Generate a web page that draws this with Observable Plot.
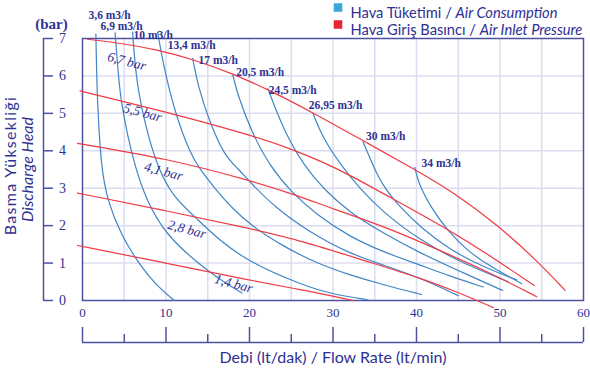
<!DOCTYPE html>
<html><head><meta charset="utf-8">
<script src="https://cdn.jsdelivr.net/npm/d3@7"></script>
<script src="https://cdn.jsdelivr.net/npm/@observablehq/plot@0.6"></script>
<style>body{margin:0;background:#fff;}</style>
</head><body><div id="chart"></div>
<script>
// ---- axis ticks ----
const xTicks = [0, 10, 20, 30, 40, 50, 60];
const xMinorTicks = [5, 15, 25, 35, 45, 55];
const xGrid = [5, 10, 15, 20, 25, 30, 35, 40, 45, 50, 55];
const yTicks = [0, 1, 2, 3, 4, 5, 6, 7];
const yGrid = [1, 2, 3, 4, 5, 6];

// ---- air consumption curves (flow lt/min, head bar) ----
const airLabels = ["3,6 m3/h", "6,9 m3/h", "10 m3/h", "13,4 m3/h", "17 m3/h", "20,5 m3/h", "24,5 m3/h", "26,95 m3/h", "30 m3/h", "34 m3/h"];
const air36 = [[1.6,7.12],[1.7,6.0],[1.8,5.3],[2.2,3.6],[3.0,2.65],[4.6,1.78],[6.2,1.16],[8.6,0.45],[11.0,0]];
const air69 = [[3.9,7.15],[4.3,6.0],[4.6,5.35],[5.4,4.4],[6.3,3.58],[7.6,2.7],[10.0,1.75],[13.8,1.0],[16.5,0.55],[19.1,0.2]];
const air10 = [[6.0,7.17],[6.4,5.93],[7.4,4.78],[8.9,3.6],[10.8,2.78],[13.4,2.25],[16.5,1.58],[20.2,1.0],[26.2,0.42],[30.0,0.16],[34.2,0.02]];
const air134 = [[9.0,7.17],[9.6,6.39],[11.0,5.05],[13.0,3.87],[14.1,3.5],[16,2.95],[18,2.45],[20.2,2.0],[24,1.45],[28,1.0],[32,0.68],[36,0.42],[40.6,0.16]];
const air17 = [[13.2,6.47],[13.8,5.75],[15.2,4.78],[17.0,3.87],[18.6,3.53],[20.2,3.13],[23,2.5],[27,1.85],[32,1.25],[36,0.95],[40.5,0.6],[45,0.13]];
const air205 = [[18.0,6.02],[18.6,5.49],[20.2,4.52],[22.4,3.6],[25,2.9],[28,2.3],[32,1.7],[36,1.3],[40.5,0.94],[44,0.65],[48,0.36]];
const air245 = [[22.2,5.66],[24.0,4.59],[26.5,3.6],[29,2.95],[32,2.35],[36,1.8],[40.5,1.26],[45,0.8],[50.3,0.27]];
const air2695 = [[27.6,5.0],[28.8,4.33],[31.0,3.6],[33,3.05],[36,2.35],[40.5,1.6],[45,1.05],[51,0.5]];
const air30 = [[33.6,4.24],[34.8,3.6],[36,3.05],[38,2.5],[40.5,1.95],[44,1.35],[48,0.9],[52,0.55]];
const air34 = [[39.8,3.56],[40.2,3.15],[41.8,2.45],[43.8,1.85],[46,1.35],[48.5,0.95],[52.6,0.45]];
const airSeries = [air36, air69, air10, air134, air17, air205, air245, air2695, air30, air34];
const airLabelX = [0.72, 2.16, 6.12, 10.2, 13.9, 18.4, 22.3, 27.1, 33.96, 40.6];
const airLabelY = [7.61, 7.32, 7.08, 6.81, 6.41, 6.09, 5.61, 5.21, 4.38, 3.66];

// ---- inlet pressure curves ----
const pressureLabels = ["1,4 bar", "2,8 bar", "4,1 bar", "5,5 bar", "6,7 bar"];
const p14 = [[-0.6,1.47],[10,1.0],[20.2,0.53],[26,0.3],[32.4,0]];
const p28 = [[-0.6,2.87],[10,2.4],[20.2,1.92],[26.2,1.6],[34,1.05],[40.5,0.6],[45,0.22],[49.2,-0.19]];
const p41 = [[-0.6,4.2],[10,3.8],[20.2,3.2],[25,2.86],[30,2.45],[37,1.91],[44.2,1.2],[49,0.72],[54.4,0.1]];
const p55 = [[-0.3,5.6],[9.8,5.05],[20,4.43],[25,4.05],[29,3.68],[32.2,3.33],[37.3,2.7],[43.8,1.9],[49,1.17],[54.1,0.4]];
const p67 = [[0.6,6.98],[5,6.86],[9,6.7],[13.2,6.45],[18,6.06],[22.2,5.64],[27.6,5.02],[33.6,4.27],[39.8,3.5],[44.5,2.88],[49.8,2.0],[54.5,1.05],[57.8,0.27]];
const pressureSeries = [p14, p28, p41, p55, p67];
const pressureLabelX = [18.1, 12.5, 9.7, 7.2, 5.3];
const pressureLabelY = [0.45, 1.9, 3.45, 5.02, 6.39];

const legendLabels = ["Hava Tüketimi / Air Consumption", "Hava Giriş Basıncı / Air Inlet Pressure"];

// ---- styles ----
const navy = "#2e3192", axisColor = "#4e50a0", gridColor = "#dcdcf0";
const blue = "#3f86c6", red = "#ef3b44";
const serif = "'Liberation Serif', 'Times New Roman', serif";
const sans = "Lato, 'Noto Sans', sans-serif";

// layout (pixels) used for the detached axis rulers
const W = 590, H = 371, mL = 82, mR = 7, mT = 38, mB = 71;
const xPerPx = 60 / (W - mL - mR);
const rulerX = (43 - mL) * xPerPx;      // y ruler line position, in x units
const rulerTickX = (53 - mL) * xPerPx;  // end of its ticks

const airRows = airSeries.flatMap((s, i) => s.map(([x, y]) => ({id: airLabels[i], x, y})));
const pRows = pressureSeries.flatMap((s, i) => s.map(([x, y]) => ({id: pressureLabels[i], x, y})));
const airLab = airLabels.map((t, i) => ({t, x: airLabelX[i], y: airLabelY[i]}));
const pLab = pressureLabels.map((t, i) => ({t, x: pressureLabelX[i], y: pressureLabelY[i]}));

const chart = Plot.plot({
  width: W, height: H,
  marginLeft: mL, marginRight: mR, marginTop: mT, marginBottom: mB,
  x: {domain: [0, 60], axis: null},
  y: {domain: [0, 7], axis: null},
  style: {background: "white", overflow: "visible"},
  marks: [
    Plot.ruleX(xGrid, {stroke: gridColor, strokeWidth: 1.5}),
    Plot.ruleY(yGrid, {stroke: gridColor, strokeWidth: 1.5}),
    Plot.frame({stroke: axisColor, strokeWidth: 1.5}),
    // y ruler
    Plot.ruleX([rulerX], {stroke: axisColor, strokeWidth: 1.5}),
    Plot.ruleY(yTicks, {x1: () => rulerX, x2: () => rulerTickX, stroke: axisColor, strokeWidth: 1.5}),
    Plot.text(yTicks, {y: d => d, text: d => String(d), frameAnchor: "left", textAnchor: "middle", dx: -20, fill: navy, fontFamily: serif, fontSize: 14}),
    // x ruler
    Plot.ruleY([0], {dy: 42, stroke: axisColor, strokeWidth: 1.5}),
    Plot.ruleX(xTicks, {y1: 0, y2: 0, dy: 42, insetTop: -15, stroke: axisColor, strokeWidth: 1.5}),
    Plot.ruleX(xMinorTicks, {y1: 0, y2: 0, dy: 42, insetTop: -8, stroke: axisColor, strokeWidth: 1.5}),
    Plot.text(xTicks, {x: d => d, text: d => String(d), frameAnchor: "bottom", dy: 16, fill: navy, fontFamily: serif, fontSize: 13}),
    // curves
    Plot.line(airRows, {x: "x", y: "y", z: "id", stroke: blue, strokeWidth: 1.2, curve: "basis"}),
    Plot.line(pRows, {x: "x", y: "y", z: "id", stroke: red, strokeWidth: 1.2, curve: "basis"}),
    Plot.text(airLab, {x: "x", y: "y", text: "t", textAnchor: "start", fill: navy, fontFamily: serif, fontWeight: "bold", fontSize: 11.5}),
    Plot.text(pLab, {x: "x", y: "y", text: "t", rotate: 15, fill: navy, fontFamily: serif, fontStyle: "italic", fontSize: 13.5}),
    // titles
    Plot.text(["(bar)"], {frameAnchor: "top-left", textAnchor: "middle", dx: -31, dy: -20, fill: navy, fontFamily: serif, fontWeight: "bold", fontSize: 15}),
    Plot.text(["Basma Yüksekliği"], {frameAnchor: "left", textAnchor: "middle", dx: -72, dy: -4, rotate: -90, fill: navy, fontFamily: sans, fontSize: 16}),
    Plot.text(["Discharge Head"], {frameAnchor: "left", textAnchor: "middle", dx: -55, rotate: -90, fill: navy, fontFamily: sans, fontStyle: "italic", fontSize: 16}),
    Plot.text(["Debi (lt/dak) / Flow Rate (lt/min)"], {frameAnchor: "bottom", textAnchor: "middle", dy: 62, fill: navy, fontFamily: sans, fontSize: 16}),
    // legend
    Plot.dot([legendLabels[0]], {frameAnchor: "top-left", dx: 255.5, dy: -31, symbol: "square", r: 4.8, fill: "#3aa7dc"}),
    Plot.dot([legendLabels[1]], {frameAnchor: "top-left", dx: 255.5, dy: -14, symbol: "square", r: 4.8, fill: "#e82530"}),
    Plot.text([legendLabels[0]], {frameAnchor: "top-left", dx: 268, dy: -31, textAnchor: "start", fill: navy, fontFamily: sans, fontSize: 14.7}),
    Plot.text([legendLabels[1]], {frameAnchor: "top-left", dx: 268, dy: -14, textAnchor: "start", fill: navy, fontFamily: sans, fontSize: 14.7})
  ]
});
document.getElementById("chart").appendChild(chart);

chart.querySelectorAll("text").forEach(el => {
  const s = el.textContent;
  // italic English parts of the legend
  if (legendLabels.includes(s)) {
    const k = s.indexOf("/ ") + 2;
    el.textContent = s.slice(0, k);
    const ts = document.createElementNS("http://www.w3.org/2000/svg", "tspan");
    ts.setAttribute("font-style", "italic");
    ts.textContent = s.slice(k);
    el.appendChild(ts);
  }
  if (s === "Basma Yüksekliği") el.style.letterSpacing = "1.3px";
});
</script>
</body></html>
